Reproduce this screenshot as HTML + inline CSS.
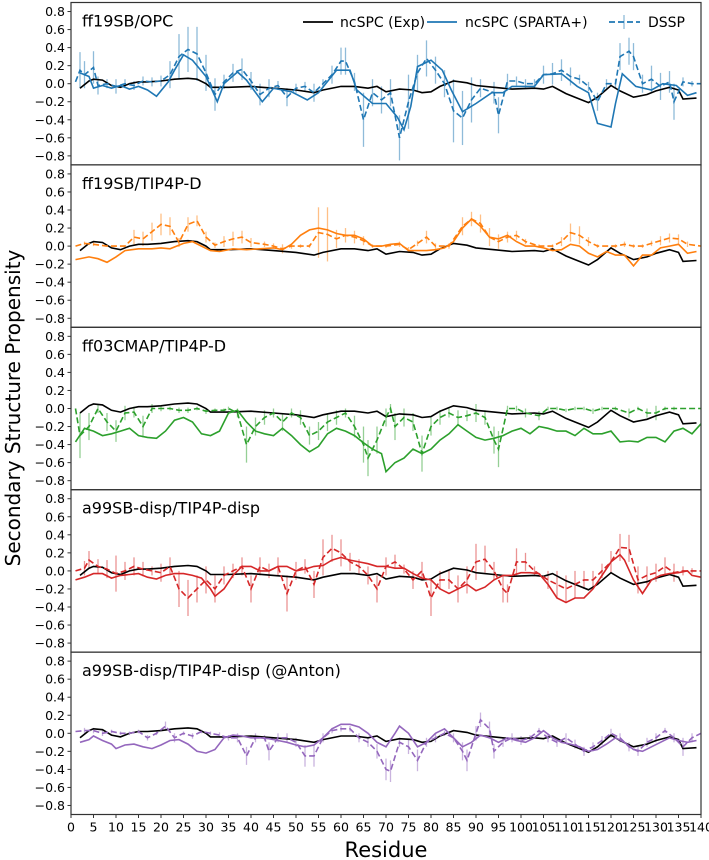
<!DOCTYPE html>
<html><head><meta charset="utf-8">
<style>
html,body{margin:0;padding:0;background:#fff;}
svg{display:block;font-family:"DejaVu Sans","Liberation Sans",sans-serif;}
</style></head>
<body>
<svg id="chart" width="709" height="860" viewBox="0 0 709 860" xmlns="http://www.w3.org/2000/svg">
<text x="0" y="0" transform="translate(20,408) rotate(-90)" text-anchor="middle" font-size="20" fill="#000">Secondary Structure Propensity</text>
<text x="386" y="857" text-anchor="middle" font-size="21" fill="#000">Residue</text>
</svg>
<script>
const xTicks = [0,5,10,15,20,25,30,35,40,45,50,55,60,65,70,75,80,85,90,95,100,105,110,115,120,125,130,135,140];
const yTicks = [-0.8,-0.6,-0.4,-0.2,0.0,0.2,0.4,0.6,0.8];
const panelTitles = ["ff19SB/OPC","ff19SB/TIP4P-D","ff03CMAP/TIP4P-D","a99SB-disp/TIP4P-disp","a99SB-disp/TIP4P-disp (@Anton)"];
const panelColors = ["#1f77b4","#ff7f0e","#2ca02c","#d62728","#9467bd"];
const expSeries = [[2,-0.05],[4,0.03],[5,0.05],[7,0.04],[9,-0.02],[11,-0.04],[13,0.0],[15,0.02],[17,0.02],[20,0.03],[23,0.05],[26,0.06],[28,0.05],[30,0.0],[31,-0.04],[35,-0.04],[40,-0.03],[45,-0.05],[50,-0.07],[54,-0.1],[56,-0.07],[60,-0.03],[63,-0.03],[66,-0.05],[68,-0.03],[70,-0.09],[73,-0.06],[76,-0.07],[78,-0.1],[80,-0.09],[82,-0.03],[85,0.03],[88,0.01],[90,-0.02],[94,-0.04],[98,-0.06],[103,-0.05],[105,-0.06],[107,-0.03],[110,-0.11],[112,-0.15],[115,-0.21],[117,-0.15],[120,-0.02],[122,-0.08],[125,-0.15],[128,-0.12],[130,-0.08],[133,-0.04],[135,-0.07],[136,-0.17],[139,-0.16]];
const spartaOPC = [[2,0.12],[4,0.08],[5,-0.05],[7,-0.02],[9,-0.05],[11,-0.02],[13,-0.06],[15,-0.03],[17,-0.07],[19,-0.14],[21.6,0.02],[23,0.15],[25,0.32],[27,0.26],[30,0.08],[32.5,-0.2],[34,0],[37,0.13],[39,0.04],[42.5,-0.2],[45,-0.05],[49,-0.09],[52.5,-0.18],[55,-0.1],[59,0.15],[62,0.15],[63.5,-0.07],[67,-0.22],[70,-0.22],[72.5,-0.37],[74,-0.51],[75.5,-0.25],[77,0.19],[80,0.26],[82.5,0.15],[84.5,-0.07],[87,-0.31],[90,-0.22],[93.5,-0.1],[96,-0.1],[98,-0.03],[103,-0.03],[105,0.1],[109,0.11],[112.5,-0.03],[115,-0.1],[117,-0.44],[120,-0.48],[121,-0.22],[122.5,0.11],[125.5,-0.03],[129,-0.07],[131.5,0],[134.5,-0.02],[137,-0.13],[139,-0.1]];
const dsspOPC = [[1,0.02,0],[2,0.15,0.2],[3,0.1,0.15],[5,0.18,0.18],[6,-0.02,0.1],[8,0.0,0.05],[10,-0.03,0.08],[12,0.0,0.05],[14,-0.02,0.05],[16,0.03,0.05],[18,0.02,0.05],[20,0.03,0.06],[22,0.1,0.15],[24,0.3,0.25],[26,0.38,0.25],[28,0.33,0.3],[30,0.12,0.2],[32,-0.12,0.18],[34,0.02,0.08],[36,0.12,0.1],[38,0.16,0.12],[40,0.03,0.1],[42,-0.12,0.12],[44,-0.05,0.1],[46,-0.02,0.05],[48,-0.15,0.1],[50,-0.05,0.05],[52,-0.03,0.05],[54,-0.1,0.1],[56,0.0,0.05],[58,0.1,0.1],[60,0.25,0.15],[61,0.25,0.15],[63,0.02,0.1],[65,-0.4,0.3],[67,-0.1,0.15],[69,-0.18,0.15],[71,-0.1,0.15],[73,-0.6,0.25],[75,-0.2,0.3],[77,0.12,0.2],[79,0.28,0.2],[81,0.15,0.15],[83,0.0,0.15],[85,-0.3,0.35],[87,-0.38,0.3],[89,-0.18,0.25],[91,-0.05,0.1],[94,-0.1,0.12],[95,-0.35,0.2],[97,0.03,0.08],[99,0.03,0.05],[101,0.0,0.05],[103,0.0,0.05],[105,0.1,0.1],[107,0.11,0.12],[109,0.15,0.12],[111,0.08,0.1],[113,0.05,0.05],[115,-0.03,0.05],[117,-0.2,0.1],[119,0.0,0.05],[121,0.0,0.05],[122,0.3,0.15],[124,0.36,0.15],[125,0.3,0.15],[127,0.0,0.1],[129,0.05,0.15],[131,-0.03,0.15],[133,0.02,0.12],[134,-0.2,0.2],[136,0.02,0.05],[138,0.0,0.03],[140,0.0,0]];
const spartaD = [[1,-0.15],[4,-0.12],[6,-0.14],[8,-0.18],[10,-0.12],[12,-0.05],[15,-0.03],[18,-0.03],[20,-0.02],[22,-0.03],[25,0.03],[27,0.05],[29,0.0],[31,-0.05],[33,-0.06],[36,-0.03],[39,-0.04],[42,-0.03],[45,-0.02],[47,-0.04],[49,0.02],[51,0.12],[53,0.18],[55,0.2],[57,0.18],[59,0.14],[61,0.12],[63,0.12],[65,0.08],[67,0.0],[69,0.0],[71,0.02],[73,0.03],[75,-0.05],[77,-0.05],[79,-0.05],[81,-0.04],[83,-0.02],[85,0.05],[87,0.2],[89,0.3],[91,0.22],[93,0.1],[95,0.08],[97,0.12],[99,0.05],[101,0.0],[103,0.0],[105,-0.02],[107,-0.05],[109,-0.04],[111,0.02],[113,0.0],[115,-0.08],[117,-0.12],[119,-0.06],[121,-0.1],[123,-0.1],[125,-0.22],[127,-0.1],[129,-0.1],[131,-0.02],[133,0.0],[135,0.02],[137,-0.08],[139,-0.06]];
const dsspD = [[1,0.0,0],[3,0.03,0.02],[5,0.02,0.02],[8,0.0,0],[10,0.0,0],[12,0.0,0],[14,0.1,0.08],[16,0.08,0.08],[18,0.16,0.1],[20,0.24,0.12],[22,0.22,0.1],[24,0.04,0.05],[26,0.24,0.08],[28,0.28,0.06],[30,0.1,0.06],[32,0.01,0.03],[34,0.05,0.06],[36,0.08,0.08],[38,0.1,0.07],[40,0.04,0.05],[43,0.02,0.03],[45,0.0,0.03],[47,-0.03,0.05],[49,0.0,0.03],[51,0.0,0.02],[53,0.0,0.02],[55,0.15,0.28],[57,0.13,0.3],[59,0.08,0.1],[61,0.12,0.08],[63,0.1,0.07],[65,0.06,0.05],[67,0.0,0.02],[70,0.0,0.02],[73,0.02,0.03],[75,-0.04,0.03],[77,0.03,0.03],[79,0.1,0.07],[81,0.0,0.03],[84,0.0,0.03],[87,0.22,0.1],[89,0.3,0.08],[91,0.25,0.1],[93,0.1,0.1],[95,0.05,0.08],[97,0.1,0.06],[99,0.12,0.05],[101,0.05,0.03],[104,0.0,0.02],[107,0.0,0.02],[109,0.05,0.05],[111,0.15,0.1],[113,0.12,0.1],[115,0.05,0.05],[117,0.0,0.02],[121,0.0,0.02],[123,0.02,0.03],[125,0.0,0.02],[127,0.0,0.02],[129,0.03,0.03],[131,0.06,0.05],[133,0.09,0.05],[135,0.08,0.05],[137,0.02,0.03],[140,0.0,0]];
const spartaCMAP = [[1,-0.37],[3,-0.22],[5,-0.25],[7,-0.3],[9,-0.28],[11,-0.25],[13,-0.22],[15,-0.3],[17,-0.32],[19,-0.33],[21,-0.25],[23,-0.13],[25,-0.1],[27,-0.15],[29,-0.28],[31,-0.3],[33,-0.25],[35,-0.05],[37,-0.02],[39,-0.15],[41,-0.25],[43,-0.28],[45,-0.3],[47,-0.22],[49,-0.3],[51,-0.4],[53,-0.48],[55,-0.42],[57,-0.28],[59,-0.22],[61,-0.25],[63,-0.3],[65,-0.38],[67,-0.45],[69,-0.5],[70,-0.7],[72,-0.6],[74,-0.55],[76,-0.45],[78,-0.5],[80,-0.45],[82,-0.35],[84,-0.28],[86,-0.18],[88,-0.25],[90,-0.32],[92,-0.35],[94,-0.33],[96,-0.3],[98,-0.25],[100,-0.22],[102,-0.28],[104,-0.2],[106,-0.22],[108,-0.25],[110,-0.25],[112,-0.3],[114,-0.22],[116,-0.28],[118,-0.28],[120,-0.25],[122,-0.37],[124,-0.36],[126,-0.37],[128,-0.32],[130,-0.32],[132,-0.37],[134,-0.25],[136,-0.22],[138,-0.28],[140,-0.17]];
const dsspCMAP = [[1,0.0,0],[2,-0.3,0.25],[4,-0.2,0.15],[6,0.0,0.05],[8,-0.15,0.1],[10,-0.25,0.12],[12,-0.05,0.08],[14,-0.04,0.06],[16,-0.2,0.12],[18,0.0,0.05],[20,0.0,0.03],[22,0.0,0.02],[24,-0.02,0.03],[26,-0.02,0.03],[28,0.0,0.02],[30,-0.03,0.03],[32,-0.02,0.02],[34,-0.02,0.02],[35,0.0,0.02],[37,-0.05,0.05],[39,-0.4,0.2],[41,-0.2,0.1],[43,-0.1,0.08],[45,-0.05,0.05],[47,-0.15,0.1],[49,-0.05,0.05],[51,-0.1,0.08],[53,-0.3,0.1],[55,-0.25,0.1],[57,-0.15,0.1],[59,-0.1,0.08],[61,-0.05,0.05],[63,-0.2,0.12],[65,-0.4,0.2],[66,-0.55,0.2],[68,-0.35,0.15],[70,-0.1,0.1],[71,0.0,0.05],[72,-0.2,0.15],[74,-0.1,0.1],[76,-0.15,0.1],[78,-0.5,0.2],[80,-0.2,0.1],[82,-0.1,0.08],[84,-0.05,0.05],[86,-0.1,0.08],[88,-0.08,0.06],[90,-0.05,0.1],[92,-0.1,0.08],[94,-0.35,0.15],[95,-0.45,0.2],[97,0.0,0.03],[99,0.0,0.03],[101,-0.05,0.05],[104,-0.08,0.05],[106,0.0,0.02],[108,0.0,0.02],[110,-0.02,0.02],[112,0.0,0.02],[114,0.0,0.02],[116,-0.03,0.03],[118,0.0,0.02],[121,0.0,0.02],[124,-0.05,0.05],[126,0.0,0.02],[128,-0.05,0.05],[130,-0.05,0.08],[132,0.0,0.02],[134,0.0,0.02],[136,0.0,0],[140,0.0,0]];
const spartaDisp = [[1,-0.1],[3,-0.07],[5,-0.03],[7,-0.03],[9,-0.08],[11,-0.05],[13,-0.04],[15,-0.03],[17,-0.07],[19,-0.09],[21,-0.05],[23,-0.03],[25,-0.03],[27,-0.05],[29,-0.08],[31,-0.2],[32,-0.28],[34,-0.2],[36,-0.05],[38,0.05],[40,0.05],[42,0.0],[44,0.0],[46,0.05],[48,0.05],[50,0.0],[52,0.02],[54,0.05],[56,0.06],[58,0.12],[60,0.15],[62,0.12],[64,0.1],[66,0.08],[68,0.05],[70,0.05],[72,0.03],[74,0.03],[76,-0.03],[78,-0.08],[80,-0.1],[82,-0.2],[84,-0.25],[86,-0.2],[88,-0.15],[90,-0.22],[92,-0.18],[94,-0.1],[96,-0.05],[98,-0.05],[100,-0.02],[102,-0.02],[104,-0.03],[106,-0.15],[108,-0.3],[110,-0.35],[112,-0.3],[114,-0.3],[116,-0.2],[118,-0.05],[120,0.1],[122,0.18],[123,0.12],[125,-0.1],[127,-0.25],[129,-0.1],[131,-0.05],[133,-0.03],[135,-0.02],[137,0.0],[138,-0.05],[140,-0.07]];
const dsspDisp = [[1,0.0,0],[3,0.03,0.08],[4,0.12,0.1],[6,0.05,0.08],[8,0.02,0.1],[10,-0.03,0.2],[12,0.0,0.1],[14,0.05,0.1],[16,0.02,0.08],[18,0.0,0.05],[20,-0.02,0.1],[22,0.05,0.1],[24,-0.2,0.2],[26,-0.3,0.2],[28,-0.2,0.15],[30,-0.1,0.15],[32,-0.2,0.15],[34,-0.05,0.1],[36,0.0,0.08],[38,0.05,0.1],[40,-0.2,0.15],[42,0.05,0.1],[44,0.0,0.08],[46,0.05,0.1],[48,-0.25,0.2],[50,0.0,0.1],[52,0.05,0.08],[54,-0.15,0.15],[56,0.15,0.2],[58,0.25,0.15],[60,0.2,0.15],[62,0.1,0.1],[64,0.05,0.08],[66,-0.05,0.1],[68,-0.2,0.15],[70,0.05,0.1],[72,0.1,0.08],[74,0.02,0.05],[76,-0.1,0.1],[78,0.0,0.1],[80,-0.3,0.2],[82,-0.1,0.1],[84,-0.1,0.1],[86,-0.2,0.15],[88,-0.1,0.15],[90,0.1,0.2],[92,0.13,0.15],[94,0.0,0.1],[96,-0.2,0.15],[97,-0.25,0.1],[99,0.1,0.15],[101,0.1,0.1],[103,0.0,0.05],[106,-0.1,0.1],[108,-0.15,0.15],[110,-0.2,0.15],[112,-0.15,0.15],[114,-0.1,0.1],[116,-0.1,0.1],[118,0.0,0.08],[120,0.1,0.12],[122,0.26,0.15],[124,0.25,0.15],[126,-0.1,0.15],[128,-0.05,0.1],[130,-0.02,0.1],[132,0.05,0.1],[134,-0.02,0.1],[136,0.0,0.05],[138,0.0,0.03],[140,0.0,0]];
const spartaAnton = [[2,-0.1],[4,-0.07],[5,-0.03],[7,-0.08],[9,-0.12],[10,-0.17],[12,-0.13],[14,-0.12],[16,-0.15],[18,-0.17],[20,-0.13],[22,-0.08],[24,-0.07],[26,-0.12],[28,-0.2],[30,-0.22],[32,-0.18],[34,-0.05],[36,-0.02],[38,-0.03],[40,-0.05],[42,-0.05],[44,-0.06],[46,-0.08],[48,-0.1],[50,-0.13],[52,-0.15],[54,-0.13],[56,-0.05],[58,0.05],[60,0.1],[62,0.1],[64,0.07],[66,0.0],[68,-0.1],[70,-0.15],[72,0.0],[73,0.08],[75,0.0],[77,-0.15],[79,-0.1],[81,0.0],[83,0.05],[85,-0.05],[87,-0.15],[89,-0.1],[91,-0.02],[93,-0.05],[95,-0.1],[97,-0.05],[99,-0.08],[101,-0.1],[103,-0.05],[105,0.03],[107,-0.05],[109,-0.1],[111,-0.12],[113,-0.15],[115,-0.2],[117,-0.18],[119,-0.12],[121,-0.05],[123,-0.1],[125,-0.18],[127,-0.2],[129,-0.15],[131,-0.1],[133,-0.05],[135,-0.08],[137,-0.1],[139,-0.08]];
const dsspAnton = [[1,0.02,0],[3,0.03,0.03],[5,0.03,0.03],[7,0.0,0.03],[9,0.02,0.02],[11,0.0,0.02],[13,0.0,0.02],[15,0.02,0.02],[17,-0.05,0.03],[19,0.0,0.02],[21,0.08,0.05],[23,-0.05,0.05],[25,0.0,0.02],[27,-0.03,0.03],[29,0.02,0.02],[31,0.0,0.02],[33,-0.02,0.03],[35,-0.05,0.03],[37,-0.05,0.05],[39,-0.25,0.1],[41,-0.05,0.05],[43,-0.05,0.03],[44,-0.2,0.1],[46,-0.05,0.05],[48,-0.05,0.05],[50,-0.1,0.05],[52,-0.25,0.12],[54,-0.25,0.12],[56,-0.05,0.05],[58,0.03,0.03],[60,0.05,0.03],[62,0.05,0.03],[64,-0.05,0.05],[66,-0.1,0.05],[68,-0.2,0.08],[70,-0.4,0.12],[71,-0.42,0.12],[73,-0.1,0.05],[75,-0.15,0.08],[77,-0.3,0.12],[79,-0.1,0.05],[81,-0.05,0.05],[83,0.0,0.03],[85,-0.05,0.05],[87,-0.2,0.1],[88,-0.3,0.12],[90,0.0,0.08],[91,0.15,0.08],[93,0.05,0.08],[94,-0.2,0.08],[96,-0.1,0.05],[98,-0.05,0.05],[100,-0.08,0.05],[102,-0.05,0.03],[104,0.03,0.03],[106,-0.05,0.05],[108,-0.1,0.05],[110,-0.05,0.05],[112,-0.12,0.05],[114,-0.2,0.05],[116,-0.15,0.05],[118,-0.08,0.05],[120,0.0,0.05],[122,-0.05,0.05],[124,-0.15,0.05],[126,-0.2,0.05],[128,-0.1,0.05],[130,-0.05,0.05],[132,0.03,0.03],[134,-0.05,0.05],[136,-0.15,0.1],[138,-0.05,0.05],[140,0.0,0]];
const spartaSets = [spartaOPC, spartaD, spartaCMAP, spartaDisp, spartaAnton];
const dsspSets = [dsspOPC, dsspD, dsspCMAP, dsspDisp, dsspAnton];

const NS = "http://www.w3.org/2000/svg";
const svg = document.getElementById('chart');
const X0 = 71, X1 = 701, TOP = 2.5, PH = 162.4;
const xMin = 0, xMax = 140, yMin = -0.9, yMax = 0.9;
function xScale(r){ return X0 + (r - xMin) / (xMax - xMin) * (X1 - X0); }
function yScale(v, p){ return TOP + p*PH + (yMax - v) / (yMax - yMin) * PH; }
function mk(tag, attrs, parent){
  const e = document.createElementNS(NS, tag);
  for (const k in attrs) e.setAttribute(k, attrs[k]);
  (parent || svg).appendChild(e);
  return e;
}
function fmt(v){ const s = Math.abs(v).toFixed(1); return (v < -1e-9 ? "\u2212" : "") + s; }
function pathOf(pts, p){ return pts.map((d,i)=>(i?'L':'M')+xScale(d[0]).toFixed(1)+','+yScale(d[1],p).toFixed(1)).join(' '); }

for (let p = 0; p < 5; p++){
  const g = mk('g', {});
  
  
  const col = panelColors[p];
  dsspSets[p].forEach(d => {
    if (d[2] > 0){
      const eb = mk('line', {x1: xScale(d[0]), x2: xScale(d[0]), y1: yScale(d[1]+d[2], p), y2: yScale(d[1]-d[2], p), stroke: col, 'stroke-opacity': 0.5, 'stroke-width': 1.3}, g);
      
      
    }
  });
  const ex = mk('path', {d: pathOf(expSeries, p), fill: 'none', stroke: '#000', 'stroke-width': 1.6}, g);
  
  
  const sp = mk('path', {d: pathOf(spartaSets[p], p), fill: 'none', stroke: col, 'stroke-width': 1.6}, g);
  
  
  const ds = mk('path', {d: pathOf(dsspSets[p], p), fill: 'none', stroke: col, 'stroke-width': 1.6, 'stroke-dasharray': '6,3'}, g);
  
  
  const fr = mk('rect', {x: X0, y: TOP + p*PH, width: X1-X0, height: PH, fill: 'none', stroke: '#333', 'stroke-width': 1.2}, g);
  
  
  yTicks.forEach(v => {
    const y = yScale(v, p);
    const tk = mk('line', {x1: X0-3.5, x2: X0, y1: y, y2: y, stroke: '#333', 'stroke-width': 1}, g);
    
    
    const t = mk('text', {x: X0-6, y: y+4.5, 'text-anchor': 'end', 'font-size': 12.5, fill: '#000'}, g);
    
    
    t.textContent = fmt(v);
  });
  const tt = mk('text', {x: 82, y: TOP + p*PH + 24, 'font-size': 16, fill: '#000'}, g);
  
  
  tt.textContent = panelTitles[p];
}
const yb = TOP + 5*PH;
xTicks.forEach(r => {
  const x = xScale(r);
  const tk = mk('line', {x1: x, x2: x, y1: yb, y2: yb+3.5, stroke: '#333', 'stroke-width': 1});
  
  
  const t = mk('text', {x: x, y: yb+17, 'text-anchor': 'middle', 'font-size': 12.5, fill: '#000'});
  
  
  t.textContent = r;
});
const lg = mk('g', {});


const ly = 22;
const l1 = mk('line', {x1: 303, x2: 333, y1: ly, y2: ly, stroke: '#000', 'stroke-width': 1.8}, lg);


const t1 = mk('text', {x: 340, y: ly+5, 'font-size': 14, fill: '#000'}, lg);


t1.textContent = 'ncSPC (Exp)';
const l2 = mk('line', {x1: 427, x2: 457, y1: ly, y2: ly, stroke: '#1f77b4', 'stroke-width': 1.8}, lg);


const t2 = mk('text', {x: 465, y: ly+5, 'font-size': 14, fill: '#000'}, lg);


t2.textContent = 'ncSPC (SPARTA+)';
const l3 = mk('line', {x1: 609, x2: 640, y1: ly, y2: ly, stroke: '#1f77b4', 'stroke-width': 1.8, 'stroke-dasharray': '6,3'}, lg);


const l3e = mk('line', {x1: 624, x2: 624, y1: ly-7, y2: ly+7, stroke: '#1f77b4', 'stroke-opacity': 0.5, 'stroke-width': 1.3}, lg);


const t3 = mk('text', {x: 648, y: ly+5, 'font-size': 14, fill: '#000'}, lg);


t3.textContent = 'DSSP';
</script>
</body></html>
